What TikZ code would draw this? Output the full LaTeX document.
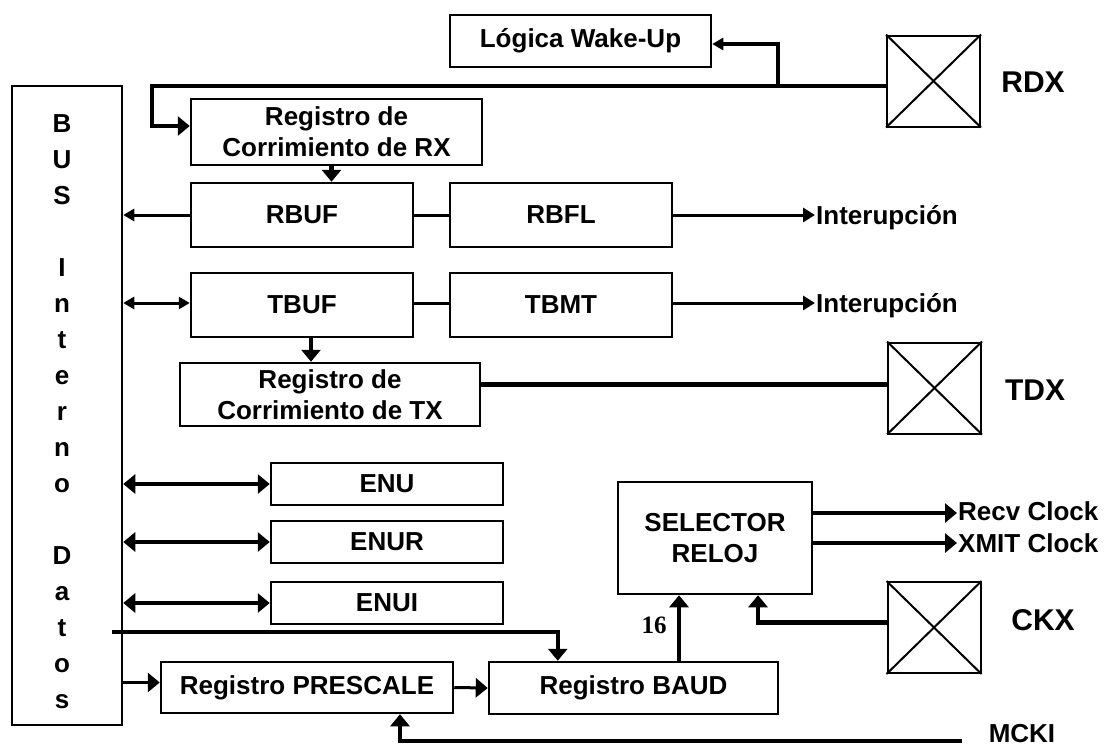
\documentclass[tikz,border=0pt]{standalone}
\usepackage{fontspec}
\setmainfont{Liberation Sans}
\newfontfamily\numfont{Liberation Serif}
\usetikzlibrary{arrows.meta,calc}

\begin{document}
\begin{tikzpicture}[x=1pt,y=-1pt,
  reg/.style={draw,line width=2.5pt,inner sep=0pt,align=center,font=\bfseries\fontsize{26}{31}\selectfont},
  pad/.style={draw,line width=2pt,minimum width=93pt,minimum height=91pt,inner sep=0pt},
  lbl/.style={inner sep=0pt,font=\bfseries\fontsize{26}{31}\selectfont},
  big/.style={inner sep=0pt,font=\bfseries\fontsize{30}{34}\selectfont},
  wire/.style={line width=3pt},
  fat/.style={line width=4.5pt},
  sm/.style={>={Triangle[length=11pt,width=12pt]}},
  md/.style={>={Triangle[length=12pt,width=14pt]}},
  >={Triangle[length=12pt,width=19pt]}]
\useasboundingbox (0,0) rectangle (1114,748);

% bus de datos
\node[reg,minimum width=110pt,minimum height=639pt] (bus) at (67,405.5) {};
\foreach \ch [count=\i from 0] in {B,U,S,{},I,n,t,e,r,n,o,{},D,a,t,o,s}
  \node[lbl,anchor=base] at (62,{132+36*\i}) {\ch};

% registros
\node[reg,minimum width=261pt,minimum height=52pt] (logica) at (580.5,41) {Lógica Wake-Up};
\node[reg,minimum width=291pt,minimum height=66pt] (rxreg) at (336.5,132) {Registro de\\Corrimiento de RX};
\node[reg,minimum width=222pt,minimum height=64pt] (rbuf) at (302,215) {RBUF};
\node[reg,minimum width=222pt,minimum height=64pt] (rbfl) at (561,215) {RBFL};
\node[reg,minimum width=222pt,minimum height=64pt] (tbuf) at (302,305) {TBUF};
\node[reg,minimum width=222pt,minimum height=64pt] (tbmt) at (561,305) {TBMT};
\node[reg,minimum width=300pt,minimum height=63pt] (txreg) at (330,394.5) {Registro de\\Corrimiento de TX};
\node[reg,minimum width=232pt,minimum height=42pt] (enu) at (387,484) {ENU};
\node[reg,minimum width=232pt,minimum height=42pt] (enur) at (387,542) {ENUR};
\node[reg,minimum width=232pt,minimum height=42pt] (enui) at (387,603) {ENUI};
\node[reg,minimum width=194pt,minimum height=112pt] (selector) at (715,538) {SELECTOR\\RELOJ};
\node[reg,minimum width=292pt,minimum height=51pt] (prescale) at (307,687.5) {Registro PRESCALE};
\node[reg,minimum width=289pt,minimum height=52pt] (baud) at (633.5,688) {Registro BAUD};

% pines
\node[pad] (rdx) at (933.5,81) {};
\node[pad] (tdx) at (934.5,388) {};
\node[pad] (ckx) at (934,627.5) {};
\foreach \p in {rdx,tdx,ckx}
  \draw[line width=2pt] (\p.north west) -- (\p.south east) (\p.south west) -- (\p.north east);
\node[big] at (1033,82) {RDX};
\node[big] at (1035,390) {TDX};
\node[big] at (1043,620) {CKX};
\node[lbl] (mcki) at (1022,734) {MCKI};

% salidas
\node[lbl,anchor=west,inner xsep=1pt] (int1) at (815,218) {Interupción};
\node[lbl,anchor=west,inner xsep=1pt] (int2) at (815,306) {Interupción};
\node[lbl,anchor=west,inner xsep=1pt] (recv) at (957,511) {Recv Clock};
\node[lbl,anchor=west,inner xsep=1pt] (xmit) at (957,543) {XMIT Clock};
\node[font=\numfont\bfseries\fontsize{25}{25}\selectfont,inner sep=0pt] at (654,625) {16};

% recepcion
\coordinate (esq) at (152,86);
\coordinate (wk) at (778,86);
\draw[fat,->] ([yshift=-5pt]rdx.west) -- (esq) |- ([yshift=6pt]rxreg.west);
\draw[fat,sm,->] (wk) |- ([yshift=-3pt]logica.east);
\draw[fat,->] ([xshift=-5pt]rxreg.south) -- ([xshift=-5pt]rxreg.south |- rbuf.north);
\draw[wire,sm,->] (rbuf.west) -- (rbuf.west -| bus.east);
\draw[wire] (rbuf.east) -- (rbfl.west);
\draw[wire,md,->] (rbfl.east) -- (rbfl.east -| int1.west);

% transmision
\draw[wire,sm,<->] ([yshift=2pt]tbuf.west -| bus.east) -- ([yshift=2pt]tbuf.west);
\draw[wire] ([yshift=2pt]tbuf.east) -- ([yshift=2pt]tbmt.west);
\draw[wire,md,->] ([yshift=2pt]tbmt.east) -- ([yshift=2pt]tbmt.east -| int2.west);
\draw[fat,->] ([xshift=9pt]tbuf.south) -- ([xshift=9pt]tbuf.south |- txreg.north);
\draw[fat] ([yshift=10pt]txreg.east) -- ([yshift=10pt]txreg.east -| tdx.west);

\foreach \e in {enu,enur,enui}
  \draw[fat,<->] (\e.west -| bus.east) -- (\e.west);

% reloj
\coordinate (bb) at (112,632);
\draw[fat,->] (bb) -| ($(baud.north west)+(70,0)$);
\draw[wire,->] ([yshift=5pt]prescale.west -| bus.east) -- ([yshift=5pt]prescale.west);
\draw[wire,->] (prescale.east) -- (baud.west);
\coordinate (b16) at ($(baud.north)+(45.5,0)$);
\draw[fat,->] (b16) -- (b16 |- selector.south);
\draw[fat,->] ([yshift=5pt]ckx.west) -| ($(selector.south)+(43,0)$);
\draw[fat,->] ([yshift=25pt]selector.east) -- ([yshift=25pt]selector.east -| recv.west);
\draw[fat,->] ([yshift=-5pt]selector.east) -- ([yshift=-5pt]selector.east -| xmit.west);
\coordinate (mc) at (962,741);
\draw[fat,->] (mc) -| ($(prescale.south)+(93,0)$);
\end{tikzpicture}
\end{document}
